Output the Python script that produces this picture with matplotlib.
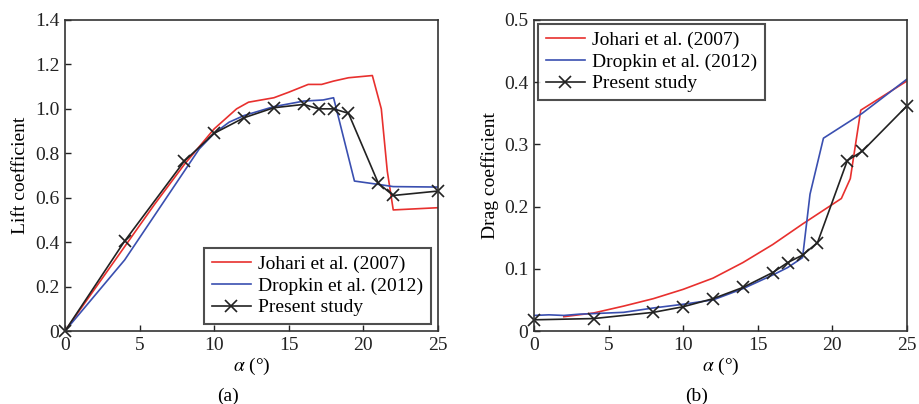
import matplotlib
matplotlib.use("Agg")
import matplotlib.pyplot as plt

plt.rcParams['font.family'] = ['Liberation Serif', 'DejaVu Serif']
plt.rcParams['mathtext.fontset'] = 'stix'

# ---- Lift data ----
lift_johari_x = [0, 2, 4, 6, 8, 10, 11.5, 12.3, 14, 15, 16.3, 17.2, 18, 19, 20.6, 21.2, 21.6, 22, 25]
lift_johari_y = [0, 0.19, 0.38, 0.57, 0.75, 0.91, 1.0, 1.03, 1.05, 1.075, 1.11, 1.11, 1.125, 1.14, 1.15, 1.0, 0.72, 0.545, 0.555]
lift_dropkin_x = [0, 3, 4, 5, 6, 8, 9, 10, 11, 12, 14, 16, 17.3, 18, 19.4, 21, 22, 25]
lift_dropkin_y = [0, 0.24, 0.32, 0.42, 0.52, 0.72, 0.82, 0.89, 0.94, 0.97, 1.01, 1.035, 1.04, 1.05, 0.675, 0.66, 0.65, 0.648]
lift_present_x = [0, 4, 8, 10, 12, 14, 16, 17, 18, 19, 21, 22, 25]
lift_present_y = [0, 0.405, 0.765, 0.89, 0.96, 1.005, 1.02, 1.0, 1.0, 0.98, 0.665, 0.61, 0.63]

# ---- Drag data ----
drag_johari_x = [2, 3, 4, 6, 8, 10, 12, 14, 16, 18, 20.6, 21.2, 21.9, 25]
drag_johari_y = [0.023, 0.026, 0.029, 0.04, 0.052, 0.067, 0.085, 0.11, 0.139, 0.172, 0.213, 0.245, 0.355, 0.402]
drag_dropkin_x = [0, 1, 2, 3, 4, 6, 8, 10, 12, 14, 16, 17, 18, 18.5, 19.4, 22, 25]
drag_dropkin_y = [0.025, 0.026, 0.025, 0.027, 0.028, 0.03, 0.037, 0.043, 0.05, 0.068, 0.09, 0.102, 0.118, 0.22, 0.31, 0.35, 0.405]
drag_present_x = [0, 4, 8, 10, 12, 14, 16, 17, 18, 19, 21, 22, 25]
drag_present_y = [0.018, 0.02, 0.03, 0.039, 0.052, 0.07, 0.094, 0.11, 0.122, 0.142, 0.274, 0.289, 0.362]

labels = ["Johari et al. (2007)", "Dropkin et al. (2012)", "Present study"]
red = '#e8302e'
blue = '#3a4fb0'
FS = 14

fig = plt.figure(figsize=(9.19, 4.04), dpi=100)
ax1 = fig.add_axes([65/919, 73/404, 373/919, 311/404])
ax2 = fig.add_axes([534/919, 73/404, 373/919, 311/404])

def style(ax):
    for s in ax.spines.values():
        s.set_linewidth(1.2)
        s.set_color('#333333')
    ax.tick_params(direction='in', length=4, width=1, labelsize=FS, pad=4, colors='#222222')

ax1.plot(lift_johari_x, lift_johari_y, color=red, lw=1.2, label=labels[0])
ax1.plot(lift_dropkin_x, lift_dropkin_y, color=blue, lw=1.2, label=labels[1])
ax1.plot(lift_present_x, lift_present_y, color='#222222', lw=1.2, marker='x', ms=9, mew=1.2, label=labels[2], clip_on=False)
ax1.set_xlim(0, 25)
ax1.set_ylim(0, 1.4)
ax1.set_xticks([0, 5, 10, 15, 20, 25])
ax1.set_yticks([0, 0.2, 0.4, 0.6, 0.8, 1.0, 1.2, 1.4])
ax1.set_yticklabels(['0', '0.2', '0.4', '0.6', '0.8', '1.0', '1.2', '1.4'])
ax1.set_ylabel('Lift coefficient', fontsize=FS, labelpad=4)
ax1.set_xlabel(r'$\alpha$ (°)', fontsize=FS, labelpad=2)
style(ax1)
leg1 = ax1.legend(loc='lower right', fontsize=FS, frameon=True, fancybox=False, edgecolor='#222222',
                  borderaxespad=0.35, handlelength=2.0, handletextpad=0.4, labelspacing=0.2, borderpad=0.4)
leg1.get_frame().set_linewidth(1.5)

ax2.plot(drag_johari_x, drag_johari_y, color=red, lw=1.2, label=labels[0])
ax2.plot(drag_dropkin_x, drag_dropkin_y, color=blue, lw=1.2, label=labels[1])
ax2.plot(drag_present_x, drag_present_y, color='#222222', lw=1.2, marker='x', ms=9, mew=1.2, label=labels[2], clip_on=False)
ax2.set_xlim(0, 25)
ax2.set_ylim(0, 0.5)
ax2.set_xticks([0, 5, 10, 15, 20, 25])
ax2.set_yticks([0, 0.1, 0.2, 0.3, 0.4, 0.5])
ax2.set_yticklabels(['0', '0.1', '0.2', '0.3', '0.4', '0.5'])
ax2.set_ylabel('Drag coefficient', fontsize=FS, labelpad=4)
ax2.set_xlabel(r'$\alpha$ (°)', fontsize=FS, labelpad=2)
style(ax2)
leg2 = ax2.legend(loc='upper left', fontsize=FS, frameon=True, fancybox=False, edgecolor='#222222',
                  borderaxespad=0.2, handlelength=2.0, handletextpad=0.4, labelspacing=0.2, borderpad=0.4)
leg2.get_frame().set_linewidth(1.5)

fig.text(228/919, 1 - 396/404, '(a)', fontsize=FS, ha='center', va='center')
fig.text(697/919, 1 - 396/404, '(b)', fontsize=FS, ha='center', va='center')

fig.savefig('out.png', dpi=100, facecolor='white')
